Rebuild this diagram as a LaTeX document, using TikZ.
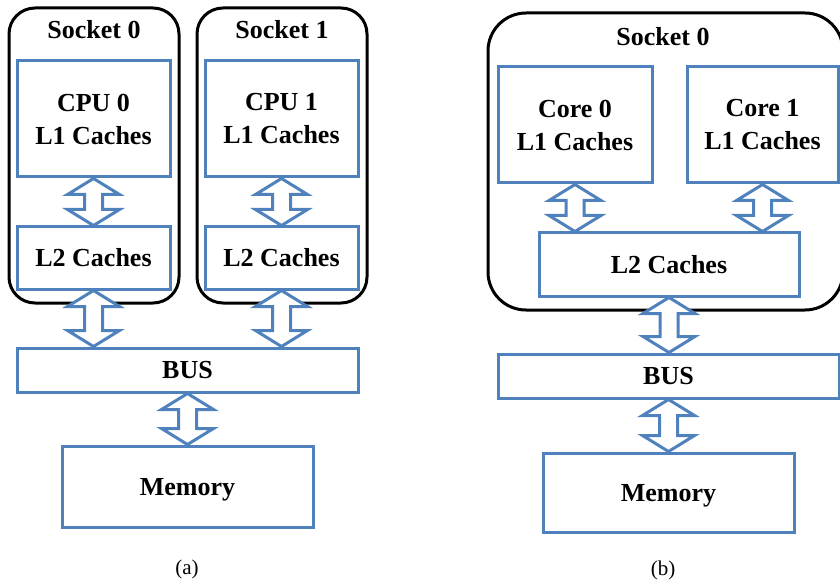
\documentclass[tikz,border=0pt]{standalone}
\usepackage{fontspec}
\setmainfont{Liberation Serif}
\definecolor{boxblue}{RGB}{79,129,189}
\tikzset{
  box/.style={draw=boxblue, line width=3pt, fill=white, inner sep=0pt, align=center,
    font=\fontsize{26}{33}\selectfont\bfseries},
  sock/.style={draw=black, line width=3pt, fill=white, rounded corners=#1, inner sep=0pt},
  lbl/.style={inner sep=0pt, font=\fontsize{26}{33}\selectfont\bfseries},
  captxt/.style={inner sep=0pt, font=\fontsize{21}{25}\selectfont},
  arr/.style={draw=boxblue, line width=3pt, fill=white, line join=miter},
}
\newcommand\dblarrow[2]{%
  \draw[arr] (#1) -- ([shift={(26,16)}]#1) -- ([shift={(9,16)}]#1)
    -- ([shift={(9,-16)}]#2) -- ([shift={(26,-16)}]#2) -- (#2)
    -- ([shift={(-26,-16)}]#2) -- ([shift={(-9,-16)}]#2)
    -- ([shift={(-9,16)}]#1) -- ([shift={(-26,16)}]#1) -- cycle;}
\begin{document}
\begin{tikzpicture}[x=1pt,y=-1pt]
\useasboundingbox (0,0) rectangle (840,585);
% ---------- (a) ----------
\node[sock=26pt, minimum width=170pt, minimum height=295pt] (sa0) at (94,155.5) {};
\node[sock=26pt, minimum width=170pt, minimum height=295pt] (sa1) at (282,155.5) {};
\node[lbl] (sa0l) at (94,30) {Socket 0};
\node[lbl] (sa1l) at (282,30) {Socket 1};
\node[box, minimum width=153pt, minimum height=116pt] (cpu0) at (93.5,119) {CPU 0\\L1 Caches};
\node[box, minimum width=153pt, minimum height=116pt] (cpu1) at (281.5,119) {CPU 1\\L1 Caches};
\node[box, minimum width=153pt, minimum height=62pt] (l2a0) at (93.5,258) {L2 Caches};
\node[box, minimum width=153pt, minimum height=62pt] (l2a1) at (281.5,258) {L2 Caches};
\node[box, minimum width=341pt, minimum height=44pt] (busa) at (187.5,370) {BUS};
\node[box, minimum width=251pt, minimum height=81pt, text depth=0pt] (mema) at (187.5,486.5) {Memory};
\node[captxt] (capa) at (187,569) {(a)};
\coordinate (a1) at (cpu0.south |- l2a0.north);
\coordinate (a2) at (cpu1.south |- l2a1.north);
\coordinate (a3) at (l2a0.south |- busa.north);
\coordinate (a4) at (l2a1.south |- busa.north);
\coordinate (a5) at (busa.south |- mema.north);
\dblarrow{cpu0.south}{a1}
\dblarrow{cpu1.south}{a2}
\dblarrow{l2a0.south}{a3}
\dblarrow{l2a1.south}{a4}
\dblarrow{busa.south}{a5}
% ---------- (b) ----------
\node[sock=38pt, minimum width=355pt, minimum height=297pt] (sb) at (665.5,161.5) {};
\node[lbl] (sbl) at (663,37) {Socket 0};
\node[box, minimum width=154pt, minimum height=116pt] (core0) at (575,125) {Core 0\\L1 Caches};
\node[box, minimum width=151pt, minimum height=116pt] (core1) at (762.5,125) {Core 1\\L1 Caches};
\node[box, minimum width=260pt, minimum height=63pt] (l2b) at (669,264.5) {L2 Caches};
\node[box, minimum width=341pt, minimum height=44pt] (busb) at (668.5,376) {BUS};
\node[box, minimum width=251pt, minimum height=79pt, text depth=0pt] (memb) at (668.5,492.5) {Memory};
\node[captxt] (capb) at (663,570) {(b)};
\coordinate (b1) at (core0.south |- l2b.north);
\coordinate (b2) at (core1.south |- l2b.north);
\coordinate (b3) at (l2b.south |- busb.north);
\coordinate (b4) at (busb.south |- memb.north);
\dblarrow{core0.south}{b1}
\dblarrow{core1.south}{b2}
\dblarrow{l2b.south}{b3}
\dblarrow{busb.south}{b4}
\end{tikzpicture}
\end{document}
